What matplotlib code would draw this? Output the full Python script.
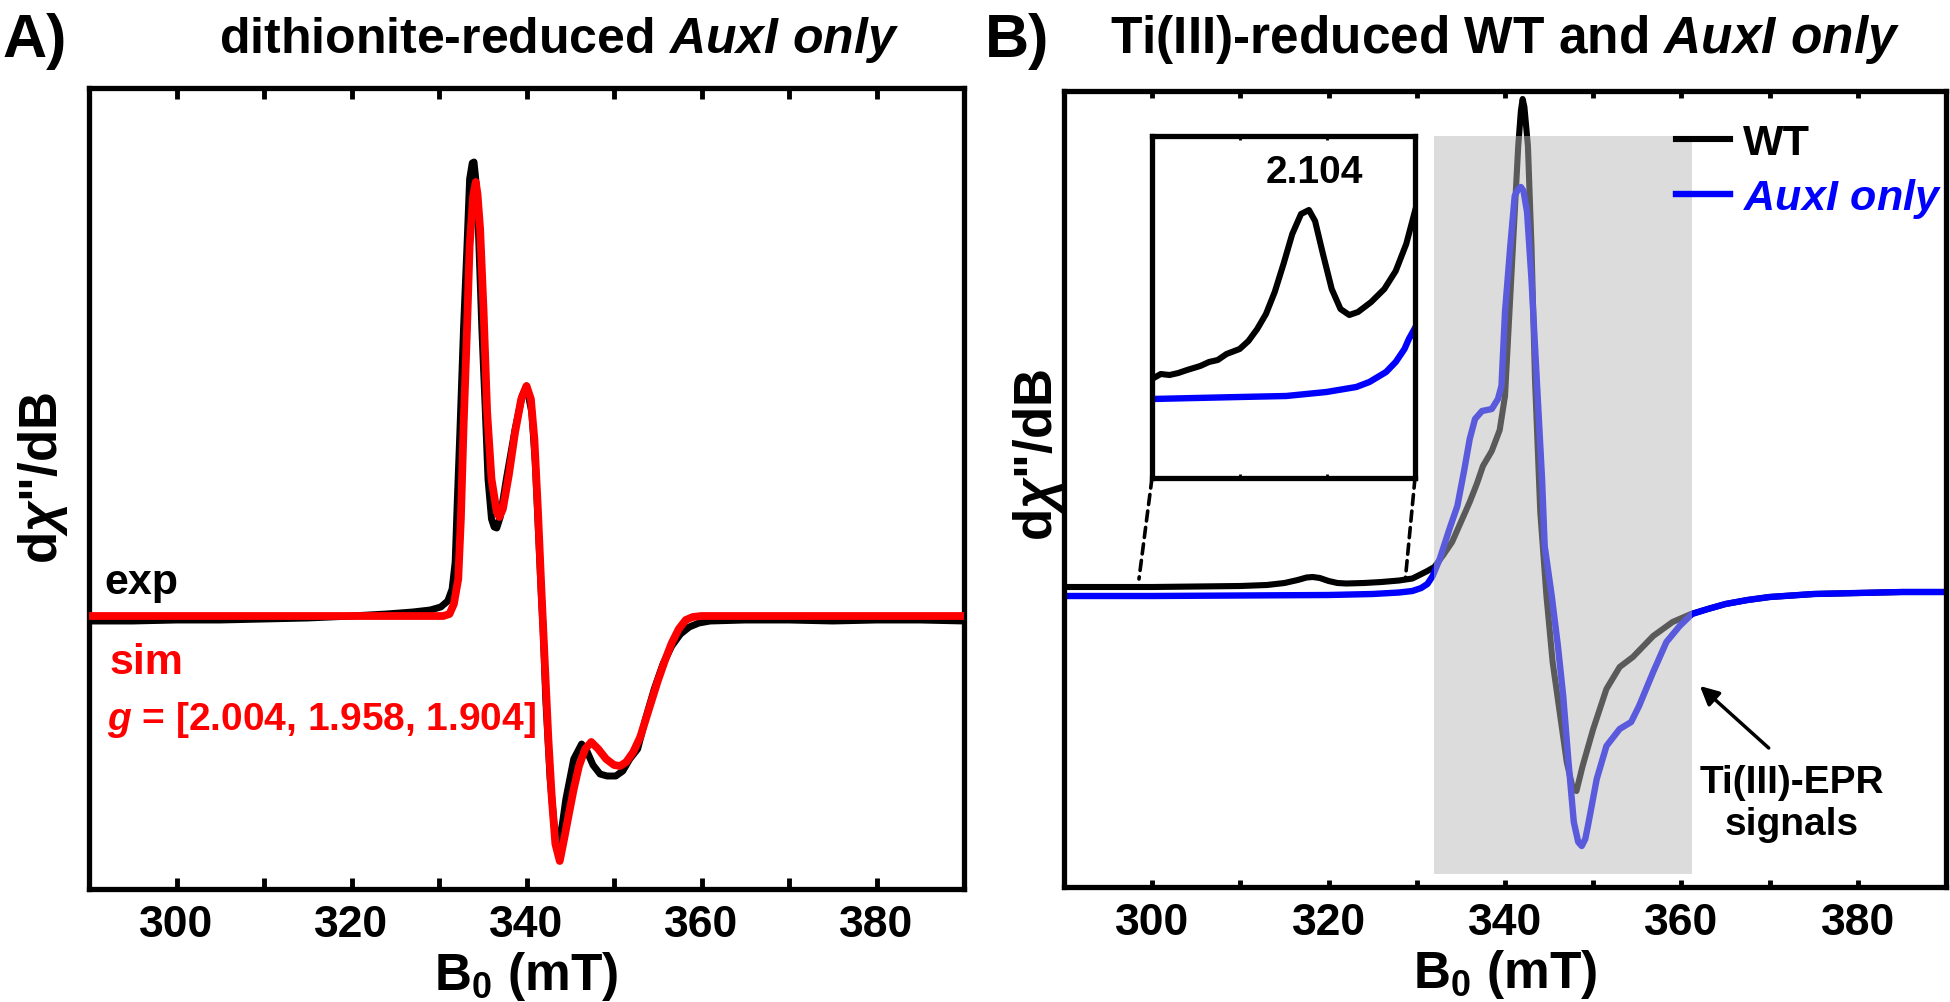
import numpy as np
import matplotlib
matplotlib.use('Agg')
import matplotlib.pyplot as plt
from matplotlib.ticker import MultipleLocator
from matplotlib.patches import Rectangle, ConnectionPatch

plt.rcParams['font.family'] = ['Liberation Sans', 'DejaVu Sans']
plt.rcParams['font.weight'] = 'bold'
plt.rcParams['axes.labelweight'] = 'bold'
plt.rcParams['mathtext.fontset'] = 'custom'
plt.rcParams['mathtext.rm'] = 'Liberation Sans:bold'
plt.rcParams['mathtext.it'] = 'Liberation Sans:italic:bold'
plt.rcParams['mathtext.bf'] = 'Liberation Sans:bold'

# ---- panel A: dithionite-reduced AuxI only (exp + sim), a.u.
exp_B = [290, 295, 300, 305, 310, 315, 320, 324, 327, 329, 330.2, 331.0, 331.5, 331.85,
         332.1, 332.4, 332.8, 333.2, 333.5, 333.8, 334.0, 334.2, 334.5, 334.9, 335.3,
         335.6, 336.0, 336.3, 336.6, 337.0, 337.7, 338.7, 339.5, 340.0, 340.6, 341.0,
         341.35, 341.7, 341.9, 342.2, 342.7, 343.2, 343.7, 344.1, 344.5, 345.4, 346.3,
         346.9, 347.6, 348.4, 349.2, 350.2, 351.0, 351.8, 352.7, 353.6, 354.6, 355.6,
         356.6, 357.6, 358.6, 359.7, 361, 365, 370, 375, 380, 385, 390]
exp_I = [-5, -5, -4, -4, -3, -2, 0, 2, 4, 6, 9, 15, 27, 54,
         117, 187, 287, 370, 437, 453, 454, 437, 387, 287, 204,
         137, 97, 89, 88, 99, 137, 187, 220, 230, 204, 154,
         87, 20, -13, -83, -163, -213, -226, -208, -183, -143, -128,
         -135, -149, -158, -160, -160, -155, -143, -133, -103, -73, -48,
         -30, -18, -11, -7, -5, -4, -4, -5, -4, -4, -5]

sim_B = [290, 300, 310, 320, 328, 330.5, 331.2, 331.7, 332.2, 332.5, 332.8, 333.2, 333.5,
         333.9, 334.2, 334.4, 334.7, 335.1, 335.5, 336.0, 336.6, 336.9, 337.3, 338.0,
         338.7, 339.4, 340.0, 340.5, 340.9, 341.3, 341.7, 342.1, 342.5, 342.9, 343.3,
         343.8, 344.3, 344.8, 345.4, 346.0, 346.7, 347.4, 348.2, 349.1, 350.0, 350.7,
         351.4, 352.2, 353.0, 354.0, 355.0, 355.8, 356.6, 357.4, 358.2, 359.0, 360,
         370, 380, 390]
sim_I = [0, 0, 0, 0, 0, 0, 2, 12, 37, 97, 187, 287, 370,
         420, 434, 422, 387, 304, 204, 137, 104, 99, 107, 142,
         184, 217, 230, 217, 177, 107, 27, -48, -123, -183, -228,
         -245, -223, -200, -173, -150, -133, -126, -133, -143, -149, -150,
         -146, -136, -121, -93, -65, -45, -27, -13, -4, -1, 0,
         0, 0, 0]

# ---- panel B: Ti(III)-reduced WT and AuxI only, a.u.
wt_B = [290, 295, 300, 305, 310, 313, 315, 316.5, 317.5, 318.2, 319, 320, 321, 322, 324,
        326, 328, 329.5, 330.3, 331.2, 332.0, 333.0, 334.0, 335.0, 336.0, 336.8, 337.5,
        338.5, 339.4, 340.0, 340.3, 340.9, 341.5, 341.8, 342.0, 342.2, 342.6, 343.0,
        343.4, 344.0, 344.7, 345.4, 346.2, 347.0, 347.7, 348.1, 348.8, 350.0, 351.5,
        353.0, 354.5, 356.8, 359.0, 361.1, 363, 365, 367.5, 370, 375, 380, 385, 390]
wt_I = [5, 5, 5, 5.5, 6, 7, 9, 12, 14.5, 15, 14, 11, 9, 8.5, 9,
        10, 11.5, 13.5, 17, 21, 25, 37, 50, 70, 90, 108, 126,
        141, 162, 196, 246, 346, 446, 481, 493, 485, 446, 346,
        213, 80, -4, -70, -120, -170, -197, -199, -174, -137, -97,
        -75, -65, -44, -30, -22, -17, -12, -8, -5, -2, -1, 0, 0]

aux_B = [290, 300, 310, 320, 325, 328, 329.5, 330.5, 331.2, 331.8, 332.6, 333.7, 334.6,
         335.4, 336.0, 336.6, 337.4, 338.5, 339.2, 339.6, 340.0, 340.6, 341.1, 341.5,
         341.8, 342.1, 342.5, 343.0, 343.6, 344.2, 344.5, 345.3, 346.0, 346.6, 347.2,
         347.8, 348.3, 348.7, 349.1, 349.4, 350.4, 351.5, 353.0, 354.3, 355.2, 356.8,
         358.3, 359.8, 361.2, 363, 365, 367.5, 370, 375, 380, 385, 390]
aux_I = [-4, -4, -3.5, -3, -2, -0.5, 1, 4, 8, 16, 33, 63, 86,
         123, 153, 173, 181, 183, 193, 206, 280, 346, 396, 403,
         405, 401, 380, 313, 213, 113, 46, -4, -54, -104, -170,
         -230, -250, -254, -247, -234, -187, -154, -137, -130, -114, -80,
         -50, -34, -22, -17, -12, -8, -5, -2, -1, 0, 0]

# inset: 300-330 mT, strongly magnified
ins_wt_B = [300, 301, 302, 303, 304, 305.5, 306.5, 307.5, 308.5, 310, 311, 312, 313, 314,
            315, 316, 317, 317.9, 318.6, 319.5, 320.5, 321.5, 322.5, 323.5, 325, 326.5,
            327.8, 329, 330]
ins_wt_I = [20, 25, 24, 26, 29, 33, 37, 39, 45, 50, 58, 70, 85, 107,
            135, 165, 185, 189, 178, 145, 110, 90, 84, 87, 97, 110,
            128, 155, 188]
ins_aux_B = [300, 305, 310, 315.3, 319.9, 323.3, 324.8, 326.7, 327.8, 328.8, 329.3, 330]
ins_aux_I = [0, 1, 2, 3, 7, 12, 17, 27, 37, 50, 60, 71]

ti_region = (332.0, 361.2)          # shaded Ti(III) region, mT
ti_region_I = (-282, 456)
zoom_ends = (298.5, 328.7)          # where the dashed guides meet the baseline
zoom_ends_I = 13
g_values = [2.004, 1.958, 1.904]
g_inset = 2.104

fig = plt.figure(figsize=(19.5, 10.03), dpi=100)
axA = fig.add_axes([89/1950, 1-890/1003, 875/1950, 801/1003])
axB = fig.add_axes([1064/1950, 1-888/1003, 882/1950, 796/1003])
ins = fig.add_axes([1152/1950, 1-479/1003, 263/1950, 342/1003])


def style(ax, ticklen):
    for s in ax.spines.values():
        s.set_linewidth(3.8)
    ax.set_xlim(290, 390)
    ax.xaxis.set_major_locator(MultipleLocator(20))
    ax.xaxis.set_minor_locator(MultipleLocator(10))
    ax.tick_params(axis='x', which='both', direction='in', top=True, bottom=True,
                   length=ticklen, width=3.5, labelsize=32, pad=11)
    ax.set_yticks([])
    ax.set_xlabel('B$_0$ (mT)', fontsize=37, labelpad=3)


style(axA, 8)
style(axB, 5)

# panel A
axA.plot(exp_B, exp_I, color='black', lw=5, solid_joinstyle='round', zorder=2)
axA.plot(sim_B, sim_I, color='#ff0000', lw=5.6, solid_joinstyle='round', zorder=3)
axA.set_ylim(-273, 528)
axA.text(291.8, 34, 'exp', fontsize=31, color='black', va='center')
axA.text(292.4, -46, 'sim', fontsize=31, color='#ff0000', va='center')
axA.text(292.1, -103, '$\\mathit{g}$ = [' + ', '.join('%.3f' % g for g in g_values) + ']',
         fontsize=28, color='#ff0000', va='center')

# panel B
wt_line, = axB.plot(wt_B, wt_I, color='black', lw=4.4, solid_joinstyle='round', zorder=2)
aux_line, = axB.plot(aux_B, aux_I, color='#0000ff', lw=4.6, solid_joinstyle='round', zorder=2.5)
axB.set_ylim(-295, 501)
axB.add_patch(Rectangle((ti_region[0], ti_region_I[0]), ti_region[1]-ti_region[0],
                        ti_region_I[1]-ti_region_I[0], facecolor='#b9b9b9', alpha=0.49,
                        edgecolor='none', zorder=3))
leg = axB.legend([wt_line, aux_line], ['WT', '$\\mathit{AuxI\\ only}$'], loc='upper right',
                 bbox_to_anchor=(0.995, 0.96), frameon=False, fontsize=31,
                 handlelength=1.25, handletextpad=0.3, labelspacing=0.3,
                 borderpad=0, borderaxespad=0)
leg.get_texts()[0].set_color('black')
leg.get_texts()[1].set_color('#0000ff')

axB.annotate('', xy=(362.1, -94), xytext=(369.9, -156),
             arrowprops=dict(arrowstyle='-|>', color='black', lw=2.5,
                             mutation_scale=28, shrinkA=0, shrinkB=0))
axB.text(372.5, -211, 'Ti(III)-EPR\nsignals', fontsize=28, ha='center', va='center',
         linespacing=1.2)

# inset
ins.plot(ins_wt_B, ins_wt_I, color='black', lw=4.4, solid_joinstyle='round')
ins.plot(ins_aux_B, ins_aux_I, color='#0000ff', lw=4.6, solid_joinstyle='round')
ins.set_xlim(300, 330)
ins.set_ylim(-79, 263)
for s in ins.spines.values():
    s.set_linewidth(3.8)
ins.set_xticks([310, 320])
ins.set_xticklabels([])
ins.set_yticks([])
ins.tick_params(axis='x', direction='in', top=True, bottom=True, length=3, width=2)
ins.text(318.5, 227, '%.3f' % g_inset, fontsize=28, ha='center', va='center')

for xa, xb in zip((0, 1), zoom_ends):
    con = ConnectionPatch(xyA=(xa, 0), coordsA=ins.transAxes, xyB=(xb, zoom_ends_I),
                          coordsB=axB.transData, color='black', lw=2.6,
                          linestyle=(0, (2.8, 1.8)))
    fig.add_artist(con)

# titles and labels
fig.text(559/1950, 1-40/1003, 'dithionite-reduced $\\mathit{AuxI\\ only}$',
         fontsize=36, ha='center', va='center')
fig.text(1505/1950, 1-40/1003, 'Ti(III)-reduced WT and $\\mathit{AuxI\\ only}$',
         fontsize=37, ha='center', va='center')
fig.text(2/1950, 1-42/1003, 'A)', fontsize=44, ha='left', va='center')
fig.text(985/1950, 1-42/1003, 'B)', fontsize=44, ha='left', va='center')
fig.text(43/1950, 1-478/1003, 'd$\\chi$"/dB', fontsize=38, rotation=90,
         ha='center', va='center')
fig.text(1038/1950, 1-455/1003, 'd$\\chi$"/dB', fontsize=38, rotation=90,
         ha='center', va='center')

fig.savefig('out.png', dpi=100)
